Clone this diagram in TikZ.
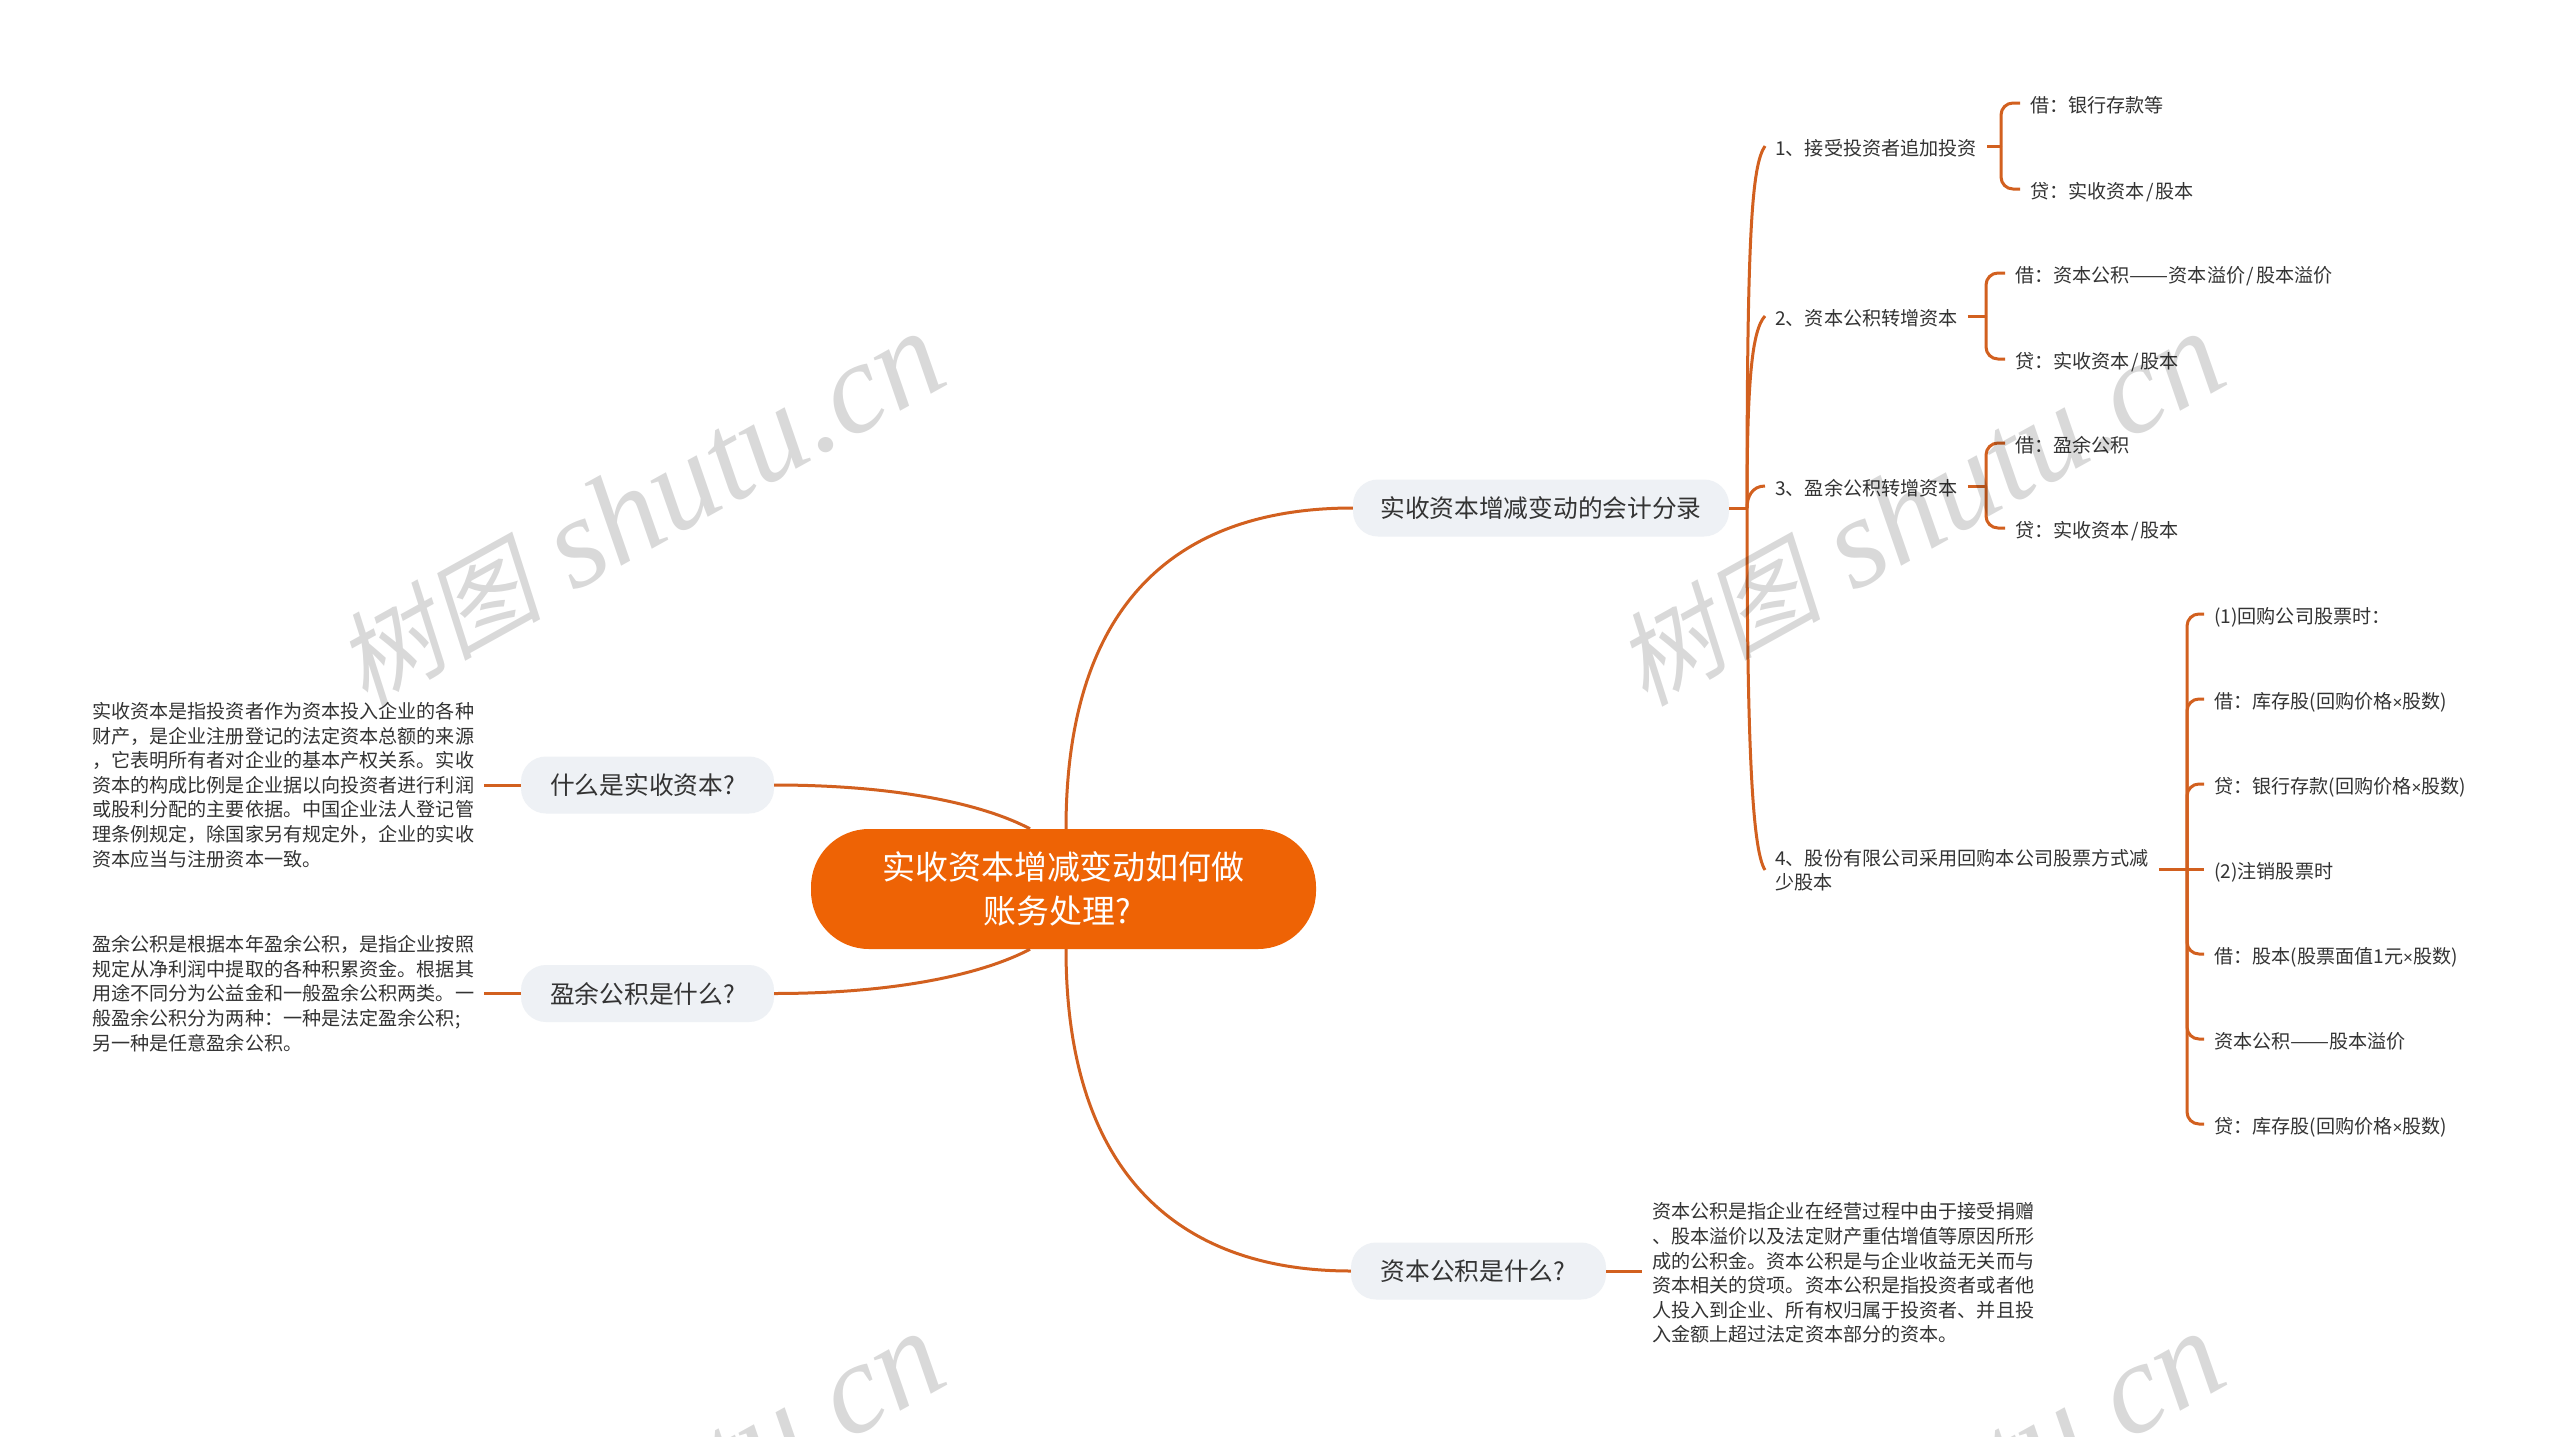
\documentclass[tikz,border=0pt]{standalone}
\usepackage{fontspec}
\setmainfont{Noto Sans CJK SC}
\newfontfamily\wmlatin{Liberation Serif}
\newfontfamily\wmcjk{Noto Sans CJK SC}[FakeSlant=0.2]
\newfontfamily\narrowsans{Liberation Sans}
\definecolor{rootfill}{HTML}{EE6305}
\definecolor{linkc}{HTML}{D2601F}
\definecolor{palefill}{HTML}{EEF1F5}
\definecolor{inkc}{HTML}{333333}
\tikzset{
  link/.style={draw=linkc,line width=3pt},
  bracket/.style={draw=linkc,line width=3pt,rounded corners=12pt},
  rootnode/.style={fill=rootfill,rounded corners=58pt,minimum width=505pt,minimum height=120pt,inner sep=0pt,text=white,align=center,font=\fontsize{32.9}{44}\selectfont},
  topic/.style={fill=palefill,rounded corners=25pt,minimum height=57pt,inner sep=0pt,text=inkc,font=\fontsize{24.7}{30}\selectfont},
  leaf/.style={anchor=west,inner xsep=10pt,inner ysep=0pt,text=inkc,text height=18.6pt,text depth=0.6pt,font=\fontsize{19.1}{24.5}\selectfont},
  para/.style={inner xsep=10pt,inner ysep=0pt,text=inkc,align=left,font=\fontsize{19.1}{24.6}\selectfont},
  wmark/.style={rotate=29,text=black,text opacity=0.15,inner sep=0pt,anchor=base}
}
\newcommand{\wmtext}{{\fontsize{103}{103}\wmcjk 树图}\hspace{32pt}{\fontsize{129}{129}\wmlatin\itshape shutu.cn}}
\newcommand{\timesx}{{\fontsize{17}{17}\narrowsans ×}}
\newcommand{\dashx}{\scalebox{1.22}[1]{——}}
\newcommand{\slashx}{\kern1.7pt/\kern1.7pt}
\begin{document}
\begin{tikzpicture}[x=1pt,y=-1pt]
\useasboundingbox (0,0) rectangle (2560,1437);
\fill[white] (0,0) rectangle (2560,1437);
% nodes
\node[rootnode] (root) at (1063.5,889) {实收资本增减变动如何做\\账务处理?\kern13pt};
\node[topic,minimum width=376pt] (entry) at (1541,508) {实收资本增减变动的会计分录};
\node[topic,minimum width=253pt] (q1) at (647.5,785) {什么是实收资本?\kern10pt};
\node[topic,minimum width=253pt] (q2) at (647.5,993.5) {盈余公积是什么?\kern10pt};
\node[topic,minimum width=255pt] (q3) at (1478.5,1271) {资本公积是什么?\kern11pt};
\node[para,anchor=west] (p1) at (82,785) {实收资本是指投资者作为资本投入企业的各种\\财产，是企业注册登记的法定资本总额的来源\\，它表明所有者对企业的基本产权关系。实收\\资本的构成比例是企业据以向投资者进行利润\\或股利分配的主要依据。中国企业法人登记管\\理条例规定，除国家另有规定外，企业的实收\\资本应当与注册资本一致。};
\node[para,anchor=west] (p2) at (82,993.5) {盈余公积是根据本年盈余公积，是指企业按照\\规定从净利润中提取的各种积累资金。根据其\\用途不同分为公益金和一般盈余公积两类。一\\般盈余公积分为两种：一种是法定盈余公积;\\另一种是任意盈余公积。};
\node[para,anchor=west] (p3) at (1642,1273) {资本公积是指企业在经营过程中由于接受捐赠\\、股本溢价以及法定财产重估增值等原因所形\\成的公积金。资本公积是与企业收益无关而与\\资本相关的贷项。资本公积是指投资者或者他\\人投入到企业、所有权归属于投资者、并且投\\入金额上超过法定资本部分的资本。};
\node[leaf] (b1) at (1765,146) {1、接受投资者追加投资};
\node[leaf] (b2) at (1765,316) {2、资本公积转增资本};
\node[leaf] (b3) at (1765,486) {3、盈余公积转增资本};
\node[para,anchor=west] (b4) at (1765,870) {4、股份有限公司采用回购本公司股票方式减\\少股本};
\node[leaf] (l1a) at (2020,103) {借：银行存款等};
\node[leaf] (l1b) at (2020,189) {贷：实收资本\slashx 股本};
\node[leaf] (l2a) at (2005,273) {借：资本公积\dashx 资本溢价\slashx 股本溢价};
\node[leaf] (l2b) at (2005,359) {贷：实收资本\slashx 股本};
\node[leaf] (l3a) at (2005,443) {借：盈余公积};
\node[leaf] (l3b) at (2005,528) {贷：实收资本\slashx 股本};
\node[leaf] (m1) at (2204,614) {(1)回购公司股票时：};
\node[leaf] (m2) at (2204,699) {借：库存股(回购价格\timesx 股数)};
\node[leaf] (m3) at (2204,784) {贷：银行存款(回购价格\timesx 股数)};
\node[leaf] (m4) at (2204,869) {(2)注销股票时};
\node[leaf] (m5) at (2204,954) {借：股本(股票面值1元\timesx 股数)};
\node[leaf] (m6) at (2204,1039) {资本公积\dashx 股本溢价};
\node[leaf] (m7) at (2204,1124) {贷：库存股(回购价格\timesx 股数)};
% junctions
\coordinate (sp0) at (1747,508);
\coordinate (sp1) at (2001,146);
\coordinate (sp2) at (1986,316);
\coordinate (sp3) at (1986,486);
\coordinate (sp4) at (2187,869);
% main curves
\draw[link] ([xshift=2.5pt]root.north) .. controls (1066,600) and (1180,508) .. (entry.west);
\draw[link] ([xshift=2.5pt]root.south) .. controls (1066,1175) and (1180,1271) .. (q3.west);
\draw[link] (q1.east) .. controls (900,785) and (985,805) .. ([xshift=-33.5pt]root.north);
\draw[link] (q2.east) .. controls (900,993.5) and (985,973) .. ([xshift=-33.5pt]root.south);
% stubs
\draw[link] (p1.east) -- (q1.west);
\draw[link] (p2.east) -- (q2.west);
\draw[link] (q3.east) -- (p3.west |- q3.east);
\draw[link] (entry.east) -- (sp0);
% spine
\draw[link] (sp0) .. controls (1747,230) and (1752,165) .. (b1.west);
\draw[link] (sp0) .. controls (1747,380) and (1752,330) .. (b2.west);
\draw[link] (sp0) .. controls (1747,497) and (1752,486) .. (b3.west);
\draw[link] (sp0) .. controls (1747,740) and (1752,850) .. (b4.west);
% brackets
\draw[link] (b1.east) -- (sp1);
\draw[bracket] (sp1) |- (l1a.west);
\draw[bracket] (sp1) |- (l1b.west);
\draw[link] (b2.east) -- (sp2);
\draw[bracket] (sp2) |- (l2a.west);
\draw[bracket] (sp2) |- (l2b.west);
\draw[link] (b3.east) -- (sp3);
\draw[bracket] (sp3) |- (l3a.west);
\draw[bracket] (sp3) |- (l3b.west);
\draw[link] (b4.east |- sp4) -- (sp4);
\draw[bracket] (sp4) |- (m1.west);
\draw[bracket] (sp4) |- (m2.west);
\draw[bracket] (sp4) |- (m3.west);
\draw[link] (sp4) -- (m4.west);
\draw[bracket] (sp4) |- (m5.west);
\draw[bracket] (sp4) |- (m6.west);
\draw[bracket] (sp4) |- (m7.west);
% watermarks
\begin{scope}
\clip (0,0) rectangle (2560,1437);
\node[wmark] (w1) at (659,545) {\wmtext};
\node[wmark] (w2) at (1939,545) {\wmtext};
\node[wmark] (w3) at (659,1545) {\wmtext};
\node[wmark] (w4) at (1939,1545) {\wmtext};
\end{scope}
\end{tikzpicture}
\end{document}
